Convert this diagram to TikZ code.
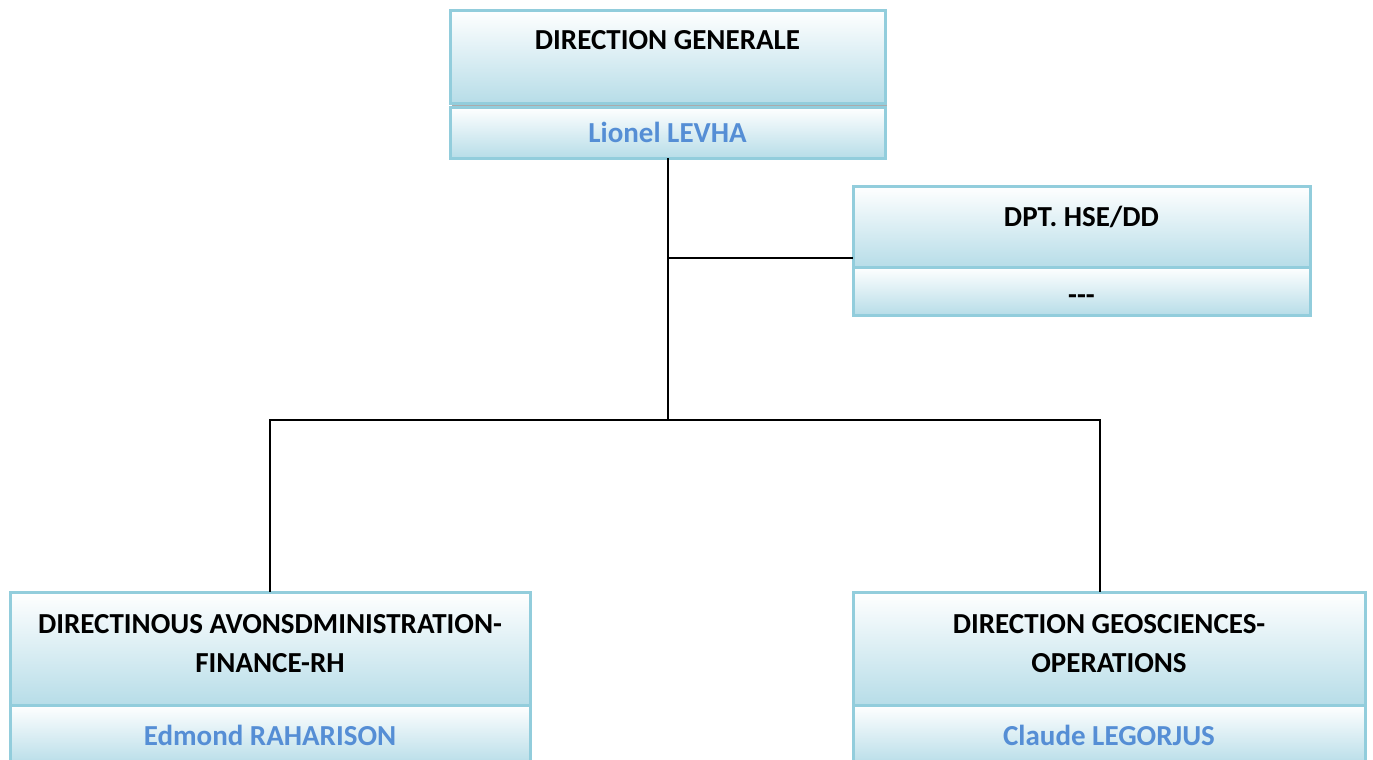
\documentclass[tikz,border=0pt]{standalone}
\usepackage{fontspec}
\setmainfont{Carlito}
\usetikzlibrary{positioning,shadows}
\definecolor{boxline}{HTML}{92CDDC}
\definecolor{boxshade}{HTML}{B7DDE8}
\definecolor{nameblue}{HTML}{558ED5}
\tikzset{
  unit/.style={draw=boxline, line width=1.5pt, top color=white, bottom color=boxshade,
    font=\fontsize{14.5}{19.5}\selectfont\bfseries, align=flush center,
    inner sep=0pt, outer sep=0pt},
  head/.style={unit, text height=10pt},
  who/.style={unit, text=nameblue, text height=10pt, text depth=0pt},
  link/.style={draw=black, line width=1pt}
}
\begin{document}
\begin{tikzpicture}[x=0.5pt, y=-0.5pt]
  \useasboundingbox (0,0) rectangle (1373,760);
  % direction generale
  \node[head, anchor=north, minimum width=217.5pt, minimum height=46.5pt,
    text width=205pt, text depth=17.5pt,
    drop shadow={shadow xshift=1pt, shadow yshift=-2pt, fill=black!55, opacity=.6}]
    (dg) at (667.5,10) {DIRECTION GENERALE};
  \node[who, below=2pt of dg, minimum width=217.5pt, minimum height=25.5pt]
    (dgname) {Lionel LEVHA};
  % hse
  \node[head, anchor=north, minimum width=228.5pt, minimum height=40.5pt,
    text width=215pt, text depth=10pt]
    (hse) at (1081.5,186) {DPT. HSE/DD};
  \node[who, text=black, text height=13pt, below=0pt of hse, minimum width=228.5pt,
    minimum height=24pt] (hsename) {-{}-{}-};
  % the two directions
  \node[head, anchor=north, minimum width=260pt, minimum height=56.5pt,
    text width=250pt, text depth=25.5pt]
    (daf) at (270,592) {DIRECTINOUS AVONSDMINISTRATION-\\FINANCE-RH};
  \node[who, below=0pt of daf, minimum width=260pt, minimum height=30pt]
    (dafname) {Edmond RAHARISON};
  \node[head, anchor=north, minimum width=256pt, minimum height=56.5pt,
    text width=246pt, text depth=25.5pt]
    (dgo) at (1109,592) {DIRECTION GEOSCIENCES-\\OPERATIONS};
  \node[who, below=0pt of dgo, minimum width=256pt, minimum height=30pt]
    (dgoname) {Claude LEGORJUS};
  % links
  \coordinate (tap) at (667.5,258);
  \coordinate (bus) at (667.5,420);
  \draw[link] (dgname.south) -- (bus);
  \draw[link] (tap) -- (hse.west |- tap);
  \draw[link] (daf.north) |- (bus) -| ([xshift=-4.5pt]dgo.north);
\end{tikzpicture}
\end{document}
